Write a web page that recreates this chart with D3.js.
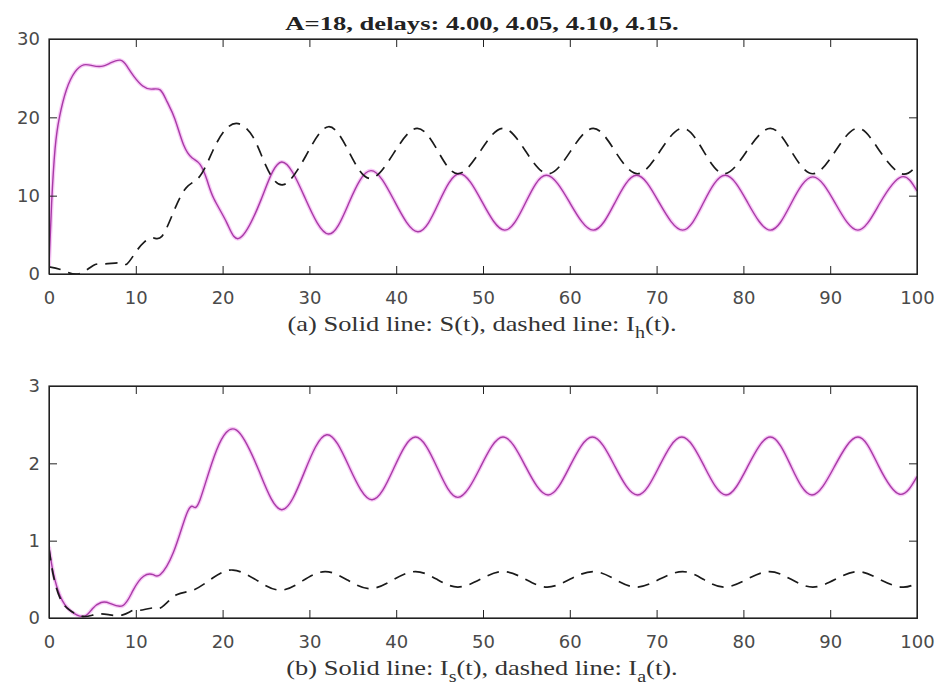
<!DOCTYPE html>
<html>
<head>
<meta charset="utf-8">
<script src="https://cdnjs.cloudflare.com/ajax/libs/d3/7.8.5/d3.min.js"></script>
<style>
  body { margin: 0; background: #fff; }
  .tick text { font-family: "DejaVu Sans", Arial, sans-serif; font-size: 18px; fill: #4a4a4a; }
  .caption { font-family: "Liberation Serif", "Times New Roman", serif; font-size: 21px; fill: #333; }
  .title { font-family: "Liberation Serif", "Times New Roman", serif; font-size: 19px; font-weight: bold; fill: #222; }
</style>
</head>
<body>
<div class="chart"></div>
<script>
// ---- data ----
var xTicks = [0, 10, 20, 30, 40, 50, 60, 70, 80, 90, 100];
var yTicksTop = [0, 10, 20, 30];
var yTicksBottom = [0, 1, 2, 3];

// (a) S(t), solid
var tS = [0, 0.3, 0.7, 1.2, 2, 3, 4, 5, 6, 7, 8.2, 9, 9.8, 10.8, 11.8, 12.8, 13.6, 14.5, 15.5, 16.5, 17.4, 18.2, 19, 20.5, 22,
          24.4, 26.8, 29.5, 32.2, 34.6, 37.1, 39.8, 42.5, 44.9, 47.3, 49.9, 52.5, 54.9, 57.3, 60, 62.7, 65.2, 67.7, 70.3, 73,
          75.4, 77.9, 80.5, 83.1, 85.5, 88, 90.6, 93.2, 95.7, 98.2, 100];
var vS = [1, 9, 16, 20, 23.5, 25.8, 26.7, 26.6, 26.5, 26.9, 27.3, 26.5, 25.2, 24, 23.6, 23.5, 22, 19.8, 16.5, 14.8, 14, 12, 9.6, 6.5, 4.6,
          9.4, 14.3, 9.7, 5.1, 9.2, 13.2, 9.3, 5.4, 9.1, 12.8, 9.2, 5.6, 9.1, 12.6, 9.1, 5.6, 9.1, 12.6, 9.1, 5.6,
          9.1, 12.6, 9.1, 5.6, 9, 12.4, 9, 5.6, 9, 12.4, 10.6];

// (a) I_h(t), dashed
var tH = [0, 1.5, 3.4, 5.1, 6.5, 8.2, 9, 10, 11, 12, 13, 14.3, 15.8, 17.4, 18.9, 20.3, 21.8, 23.5, 25, 27, 29.6, 32.2, 34.6, 37,
          39.7, 42.4, 44.8, 47.1, 49.7, 52.3, 54.9, 57.5, 60.1, 62.7, 65.2, 67.8, 70.4, 73, 75.4, 77.8, 80.4, 83.1, 85.5, 88,
          90.6, 93.2, 95.7, 98.2, 100];
var vH = [0.9, 0.5, 0, 1.1, 1.3, 1.4, 1.3, 2.8, 4.1, 4.6, 4.8, 7.8, 11, 12.5, 15.8, 18.4, 19.2, 17.5, 13.8, 11.4, 15.1, 18.8, 15.5, 12.2,
          15.4, 18.6, 15.7, 12.8, 15.7, 18.6, 15.7, 12.8, 15.7, 18.6, 15.7, 12.8, 15.7, 18.6, 15.7, 12.8, 15.7, 18.6, 15.7, 12.8,
          15.7, 18.6, 15.7, 12.8, 13.9];

// (b) I_s(t), solid
var tIs = [0, 0.5, 1.3, 2.4, 4, 5, 6, 7, 8.5, 9.7, 10.9, 12, 12.8, 14.3, 15.8, 16.6, 17.4, 19.3, 21.6, 24.2, 26.8, 29.4, 32, 34.6,
           37.2, 39.7, 42.2, 44.7, 47.1, 49.7, 52.3, 54.9, 57.5, 60, 62.6, 65.2, 67.8, 70.3, 72.9, 75.5, 78, 80.5, 83.1, 85.5,
           87.9, 90.5, 93.2, 95.6, 98, 100];
var vIs = [0.92, 0.58, 0.28, 0.1, 0.02, 0.12, 0.2, 0.19, 0.16, 0.36, 0.54, 0.56, 0.56, 0.84, 1.33, 1.44, 1.53, 2.17, 2.43, 1.9, 1.4, 1.88,
           2.37, 1.95, 1.53, 1.93, 2.34, 1.95, 1.56, 1.95, 2.34, 1.96, 1.59, 1.96, 2.34, 1.96, 1.59, 1.96, 2.34, 1.96, 1.59, 1.96,
           2.34, 1.96, 1.59, 1.96, 2.34, 1.96, 1.6, 1.83];

// (b) I_a(t), dashed
var tIa = [0, 0.5, 1.3, 2.4, 4, 5.5, 7, 8.5, 9.7, 10.5, 12, 13, 14.7, 16.6, 18.9, 21.2, 23.9, 26.6, 29.2, 31.8, 34.4, 37, 39.6,
           42.2, 44.7, 47.1, 49.7, 52.3, 54.9, 57.4, 60, 62.7, 65.2, 67.7, 70.3, 73, 75.4, 77.8, 80.4, 83, 85.5, 88, 90.6, 93.2,
           95.7, 98.2, 100];
var vIa = [0.9, 0.55, 0.25, 0.1, 0.02, 0.05, 0.04, 0.04, 0.1, 0.1, 0.13, 0.14, 0.3, 0.36, 0.52, 0.62, 0.49, 0.36, 0.48, 0.6, 0.49,
           0.38, 0.49, 0.6, 0.5, 0.4, 0.5, 0.6, 0.5, 0.4, 0.5, 0.6, 0.5, 0.4, 0.5, 0.6, 0.5, 0.4, 0.5, 0.6, 0.5, 0.4, 0.5, 0.6,
           0.5, 0.4, 0.45];

var titleText = "A=18, delays: 4.00, 4.05, 4.10, 4.15.";

// ---- layout ----
var width = 941, height = 688;
var left = 49, right = 917;

var svg = d3.select(".chart").append("svg")
    .attr("width", width)
    .attr("height", height);

var x = d3.scaleLinear().domain([0, 100]).range([left, right]);

function zip(ts, vs) {
    return ts.map(function(t, i) { return [t, vs[i]]; });
}

function drawPanel(id, top, bottom, yMax, yTicks, solid, dashed) {
    var y = d3.scaleLinear().domain([0, yMax]).range([bottom, top]);
    var g = svg.append("g");

    g.append("clipPath").attr("id", "clip" + id)
        .append("rect")
        .attr("x", left).attr("y", top)
        .attr("width", right - left).attr("height", bottom - top);

    var line = d3.line()
        .x(function(d) { return x(d[0]); })
        .y(function(d) { return y(d[1]); })
        .curve(d3.curveNatural);

    var lines = g.append("g").attr("clip-path", "url(#clip" + id + ")");

    // soft pink halo under the magenta line
    lines.append("path")
        .datum(solid)
        .attr("d", line)
        .attr("fill", "none")
        .attr("stroke", "#f4b4f2")
        .attr("stroke-width", 4)
        .attr("stroke-opacity", 0.7);
    lines.append("path")
        .datum(solid)
        .attr("d", line)
        .attr("fill", "none")
        .attr("stroke", "#a83aa6")
        .attr("stroke-width", 1.4);

    lines.append("path")
        .datum(dashed)
        .attr("d", line)
        .attr("fill", "none")
        .attr("stroke", "#1a1a1a")
        .attr("stroke-width", 1.7)
        .attr("stroke-dasharray", "12,8");

    // axes, MATLAB style: ticks pointing in, box all round
    var xAxis = d3.axisBottom(x).tickValues(xTicks).tickSize(-8).tickPadding(17);
    var yAxis = d3.axisLeft(y).tickValues(yTicks).tickSize(-8).tickPadding(9).tickFormat(d3.format("d"));

    g.append("g").attr("transform", "translate(0," + bottom + ")").call(xAxis);
    g.append("g").attr("transform", "translate(" + left + ",0)").call(yAxis);
    g.append("g").attr("transform", "translate(0," + top + ")")
        .call(d3.axisTop(x).tickValues(xTicks).tickSize(-8).tickFormat(""));
    g.append("g").attr("transform", "translate(" + right + ",0)")
        .call(d3.axisRight(y).tickValues(yTicks).tickSize(-8).tickFormat(""));

    g.selectAll(".domain").attr("stroke", "#222");
    g.selectAll(".tick line").attr("stroke", "#222");

    g.append("rect")
        .attr("x", left).attr("y", top)
        .attr("width", right - left).attr("height", bottom - top)
        .attr("fill", "none")
        .attr("stroke", "#222")
        .attr("stroke-width", 1.2);
}

drawPanel("a", 39, 274, 30, yTicksTop, zip(tS, vS), zip(tH, vH));
drawPanel("b", 386, 618, 3, yTicksBottom, zip(tIs, vIs), zip(tIa, vIa));

// the source picture is stretched sideways, so the texts are too
svg.append("text")
    .attr("class", "title")
    .attr("transform", "translate(482,30) scale(1.4,1)")
    .attr("text-anchor", "middle")
    .text(titleText);

function caption(yPos, label, solidName, solidSub, dashedSub) {
    var t = svg.append("text")
        .attr("class", "caption")
        .attr("transform", "translate(482," + yPos + ") scale(1.26,1)")
        .attr("text-anchor", "middle");
    t.append("tspan").text(label + " Solid line: " + solidName);
    if (solidSub) {
        t.append("tspan").attr("dy", 7).style("font-size", "16px").text(solidSub);
        t.append("tspan").attr("dy", -7).text("(t), dashed line: I");
    } else {
        t.append("tspan").text("(t), dashed line: I");
    }
    t.append("tspan").attr("dy", 7).style("font-size", "16px").text(dashedSub);
    t.append("tspan").attr("dy", -7).text("(t).");
}

caption(331, "(a)", "S", null, "h");
caption(675, "(b)", "I", "s", "a");
</script>
</body>
</html>
